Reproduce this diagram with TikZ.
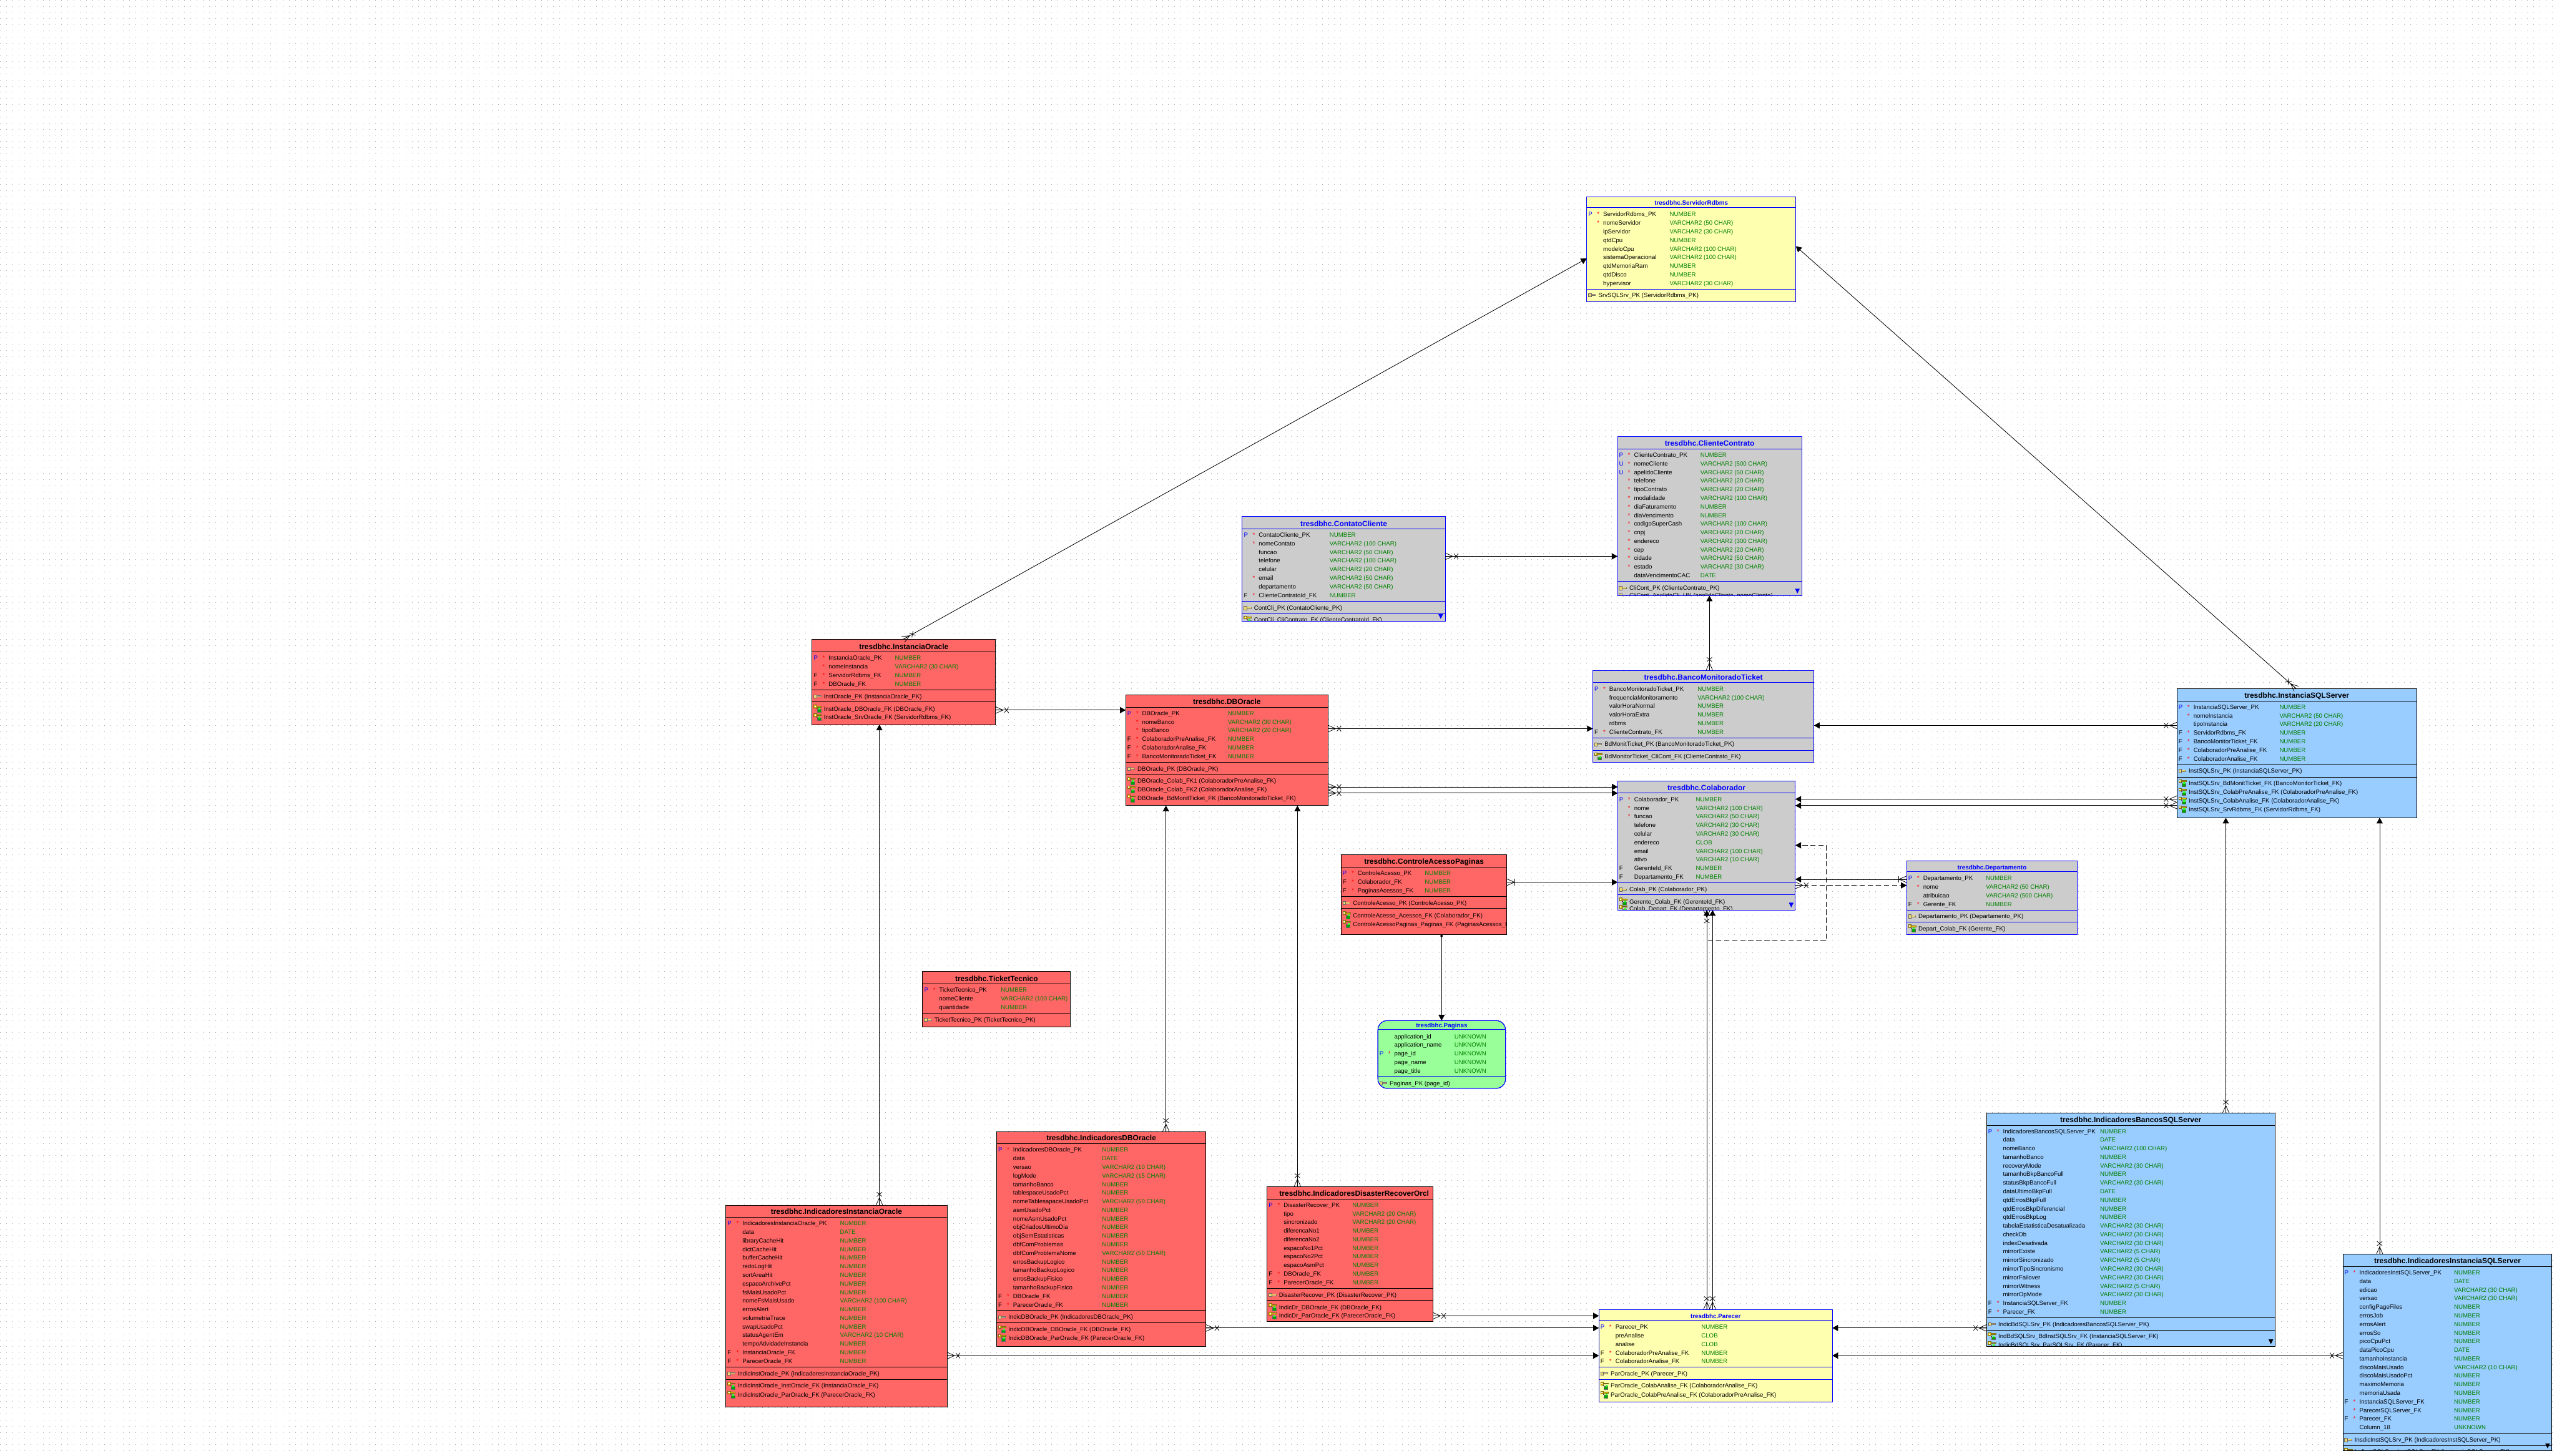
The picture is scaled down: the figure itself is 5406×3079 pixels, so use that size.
\documentclass[tikz,border=0pt]{standalone}
\usepackage{fontspec}
\setmainfont{Liberation Sans}
\usetikzlibrary{arrows.meta,calc}
\definecolor{cR}{HTML}{FF6666}
\definecolor{cY}{HTML}{FFFFB0}
\definecolor{cG}{HTML}{CCCCCC}
\definecolor{cB}{HTML}{99CCFF}
\definecolor{cP}{HTML}{99FF99}
\definecolor{cT}{HTML}{008000}
\definecolor{kGold}{HTML}{E0B800}
\definecolor{kDark}{HTML}{7A6A10}
\AtBeginDocument{\catcode`\_=12 }
\newcounter{autoid}
\newcounter{rowidx}
\tikzset{
  griddots/.style={line width=.45pt,draw=black!32,dash pattern=on .45pt off 6.05pt},
  tbase/.style={inner sep=0pt,outer sep=0pt,line width=.62pt},
  lbl/.style={inner sep=0pt,outer sep=0pt,anchor=base west,font=\fontsize{6.375}{7}\selectfont},
  lblblue/.style={lbl,text=blue},
  lblblack/.style={lbl,text=black},
  lbltype/.style={lbl,text=cT},
  lblstar/.style={inner sep=0pt,outer sep=0pt,anchor=base,text=red,font=\fontsize{6.375}{7}\selectfont},
  ttlbig/.style={inner sep=0pt,outer sep=0pt,anchor=base,font=\fontsize{7.9}{9}\bfseries\selectfont},
  ttlsmall/.style={inner sep=0pt,outer sep=0pt,anchor=base,font=\fontsize{6.5}{8}\bfseries\selectfont},
  relline/.style={line width=.55pt,draw=black,-{Triangle[length=6pt,width=6.5pt]}},
  reldash/.style={relline,dash pattern=on 5.5pt off 3pt},
  footpart/.style={line width=.5pt,draw=black},
  footX/.pic={\draw[footpart] (0,-7)--(16,0)--(0,7) (0,0)--(16,0);
              \draw[footpart] (18.5,-5.5)--(27.5,5.5) (18.5,5.5)--(27.5,-5.5);},
  footB/.pic={\draw[footpart] (0,-7)--(16,0)--(0,7) (0,0)--(16,0);
              \draw[footpart] (17,-7)--(17,7);},
  pkicon/.pic={\fill[black!55] (5,-2)--(16,-2)--(16,2)--(5,2)--cycle;
               \fill[kGold!60!white] (5,-1.2)--(15,-1.2)--(15,.8)--(5,.8)--cycle;
               \filldraw[draw=black!60,fill=kGold!55!white,line width=.35pt] (0,-3.5) rectangle (6,3.5);},
  fkicon/.pic={\filldraw[draw=kDark,fill=kGold,line width=.4pt] (0,-8) rectangle (6,-2);
               \fill[white] (1.8,-6.3) rectangle (4.2,-3.7);
               \filldraw[draw=kDark,fill=kGold,line width=.3pt] (6,-6.2) rectangle (16,-3.8);
               \fill[black!70] (6,-1) rectangle (8,0);
               \filldraw[draw=black!60,fill=green!65!black,line width=.3pt] (7,1) rectangle (15,7);
               \fill[green!80!white] (10,-2) rectangle (14,2);},
}
% open a table: [extra], id, L, T, R, B, fill, line colour
\newcommand\tbOpen[8][]{%
  \def\tL{#3}\def\tT{#4}\def\tR{#5}\def\tB{#6}\def\tCol{#8}%
  \tikzset{tboxopt/.style={#1}}%
  \node[tbase,tboxopt,draw=#8,fill=#7,minimum width={(#5-#3)*0.5pt},minimum height={(#6-#4)*0.5pt}]
     (#2) at ({(#3+#5)/2},{(#4+#6)/2}) {};
  \begin{scope}
  \clip (#3,#4) rectangle (#5,#6);
}
\newcommand\tbClose{%
  \end{scope}
  \draw[line width=.62pt,draw=\tCol,tboxopt] (\tL,\tT) rectangle (\tR,\tB);
}
% [centre x], size style, y, text, divider y
\newcommand\tbTitle[5][]{%
  \stepcounter{autoid}%
  \def\tmpa{#1}%
  \ifx\tmpa\empty\pgfmathsetmacro\tCx{(\tL+\tR)/2}\else\def\tCx{#1}\fi
  \node[#2,text=\tCol] (n\theautoid) at (\tCx,#3+5) {#4};
  \draw[line width=.55pt,draw=\tCol] (\tL,#5) -- (\tR,#5);
}
% type column x, first-row y
\newcommand\tbCols[2]{\def\tX{#1}\def\tFirst{#2}\setcounter{rowidx}{0}}
\newcommand\tbRow[4]{%
  \pgfmathsetmacro\tY{\tFirst+18.19*\therowidx+4.5}%
  \stepcounter{rowidx}%
  \def\tmpa{#1}\def\tmpP{P}\def\tmpU{U}\def\tmpF{F}%
  \ifx\tmpa\tmpP\stepcounter{autoid}\node[lblblue] (n\theautoid) at (\tL+3.5,\tY) {P};\fi
  \ifx\tmpa\tmpU\stepcounter{autoid}\node[lblblue] (n\theautoid) at (\tL+3.5,\tY) {U};\fi
  \ifx\tmpa\tmpF\stepcounter{autoid}\node[lblblack] (n\theautoid) at (\tL+3.5,\tY) {F};\fi
  \def\tmpa{#2}%
  \ifx\tmpa\empty\else\stepcounter{autoid}\node[lblstar] (n\theautoid) at (\tL+24.5,\tY) {*};\fi
  \stepcounter{autoid}\node[lblblack] (n\theautoid) at (\tL+35,\tY) {#3};
  \stepcounter{autoid}\node[lbltype] (n\theautoid) at (\tX,\tY) {#4};
}
\newcommand\tbDiv[1]{\draw[line width=.55pt,draw=\tCol] (\tL,#1) -- (\tR,#1);}
% icon kind (pkicon/fkicon), y, text
\newcommand\tbIdx[3]{%
  \pic at (\tL+3.5,#2) {#1};
  \stepcounter{autoid}\node[lblblack] (n\theautoid) at (\tL+25,#2+4.5) {#3};
}
\newcommand\tbDown[2]{\fill[\tCol] (#1-5,#2-5) -- (#1+5,#2-5) -- (#1,#2+5) -- cycle;}
% relation: from, to, foot at the from end
\newcommand\relLine[4][relline]{%
  \draw[#1] (#2) -- (#3);
  \path let \p1=(#2),\p2=(#3),\n1={atan2(\y2-\y1,\x2-\x1)} in pic[rotate=\n1] at (\p1) {#4};
}
\begin{document}
\begin{tikzpicture}[x=0.5pt,y=-0.5pt]
\useasboundingbox (0,0) rectangle (5406,3079);
\fill[white] (0,0) rectangle (5406,3079);
\foreach \yy in {0,13,...,3079} \draw[griddots] (0,\yy) -- (5406,\yy);

% ---------- ServidorRdbms
\tbOpen{Srv}{3354.5}{416}{3796.7}{638}{cY}{blue}
\tbTitle{ttlsmall}{429}{tresdbhc.ServidorRdbms}{439}
\tbCols{3530}{453.3}
\tbRow{P}{*}{ServidorRdbms_PK}{NUMBER}
\tbRow{}{*}{nomeServidor}{VARCHAR2 (50 CHAR)}
\tbRow{}{}{ipServidor}{VARCHAR2 (30 CHAR)}
\tbRow{}{}{qtdCpu}{NUMBER}
\tbRow{}{}{modeloCpu}{VARCHAR2 (100 CHAR)}
\tbRow{}{}{sistemaOperacional}{VARCHAR2 (100 CHAR)}
\tbRow{}{}{qtdMemoriaRam}{NUMBER}
\tbRow{}{}{qtdDisco}{NUMBER}
\tbRow{}{}{hypervisor}{VARCHAR2 (30 CHAR)}
\tbDiv{611}
\tbIdx{pkicon}{624}{SrvSQLSrv_PK (ServidorRdbms_PK)}
\tbClose

% ---------- ClienteContrato
\tbOpen{CliCont}{3419.7}{923.6}{3809.4}{1259.6}{cG}{blue}
\tbTitle{ttlbig}{938}{tresdbhc.ClienteContrato}{949}
\tbCols{3595}{962.3}
\tbRow{P}{*}{ClienteContrato_PK}{NUMBER}
\tbRow{U}{*}{nomeCliente}{VARCHAR2 (500 CHAR)}
\tbRow{U}{*}{apelidoCliente}{VARCHAR2 (50 CHAR)}
\tbRow{}{*}{telefone}{VARCHAR2 (20 CHAR)}
\tbRow{}{*}{tipoContrato}{VARCHAR2 (20 CHAR)}
\tbRow{}{*}{modalidade}{VARCHAR2 (100 CHAR)}
\tbRow{}{*}{diaFaturamento}{NUMBER}
\tbRow{}{*}{diaVencimento}{NUMBER}
\tbRow{}{*}{codigoSuperCash}{VARCHAR2 (100 CHAR)}
\tbRow{}{*}{cnpj}{VARCHAR2 (20 CHAR)}
\tbRow{}{*}{endereco}{VARCHAR2 (300 CHAR)}
\tbRow{}{*}{cep}{VARCHAR2 (20 CHAR)}
\tbRow{}{*}{cidade}{VARCHAR2 (50 CHAR)}
\tbRow{}{*}{estado}{VARCHAR2 (30 CHAR)}
\tbRow{}{}{dataVencimentoCAC}{DATE}
\tbDiv{1229.4}
\tbIdx{pkicon}{1243.6}{CliCont_PK (ClienteContrato_PK)}
\tbIdx{pkicon}{1259.5}{CliCont_ApelidoCli_UN (apelidoCliente, nomeCliente)}
\tbDown{3800}{1250}
\tbClose

% ---------- ContatoCliente
\tbOpen{ContCli}{2626.3}{1092.3}{3055.7}{1313.3}{cG}{blue}
\tbTitle{ttlbig}{1107.7}{tresdbhc.ContatoCliente}{1118.3}
\tbCols{2811}{1131.3}
\tbRow{P}{*}{ContatoCliente_PK}{NUMBER}
\tbRow{}{*}{nomeContato}{VARCHAR2 (100 CHAR)}
\tbRow{}{}{funcao}{VARCHAR2 (50 CHAR)}
\tbRow{}{}{telefone}{VARCHAR2 (100 CHAR)}
\tbRow{}{}{celular}{VARCHAR2 (20 CHAR)}
\tbRow{}{*}{email}{VARCHAR2 (50 CHAR)}
\tbRow{}{}{departamento}{VARCHAR2 (50 CHAR)}
\tbRow{F}{*}{ClienteContratoId_FK}{NUMBER}
\tbDiv{1271.3}
\tbIdx{pkicon}{1285.7}{ContCli_PK (ContatoCliente_PK)}
\tbDiv{1297.3}
\tbIdx{fkicon}{1310.7}{ContCli_CliContrato_FK (ClienteContratoId_FK)}
\tbDown{3046}{1303.7}
\tbClose

% ---------- BancoMonitoradoTicket
\tbOpen{BdMon}{3367.4}{1417.7}{3835}{1612.6}{cG}{blue}
\tbTitle{ttlbig}{1432.3}{tresdbhc.BancoMonitoradoTicket}{1443.6}
\tbCols{3589}{1456.9}
\tbRow{P}{*}{BancoMonitoradoTicket_PK}{NUMBER}
\tbRow{}{}{frequenciaMonitoramento}{VARCHAR2 (100 CHAR)}
\tbRow{}{}{valorHoraNormal}{NUMBER}
\tbRow{}{}{valorHoraExtra}{NUMBER}
\tbRow{}{}{rdbms}{NUMBER}
\tbRow{F}{*}{ClienteContrato_FK}{NUMBER}
\tbDiv{1560.7}
\tbIdx{pkicon}{1573.9}{BdMonitTicket_PK (BancoMonitoradoTicket_PK)}
\tbDiv{1586.6}
\tbIdx{fkicon}{1599.8}{BdMonitorTicket_CliCont_FK (ClienteContrato_FK)}
\tbClose

% ---------- InstanciaOracle
\tbOpen{InstOra}{1716.9}{1352.3}{2104.8}{1532.3}{cR}{black}
\tbTitle{ttlbig}{1367.7}{tresdbhc.InstanciaOracle}{1378.3}
\tbCols{1892}{1391.7}
\tbRow{P}{*}{InstanciaOracle_PK}{NUMBER}
\tbRow{}{*}{nomeInstancia}{VARCHAR2 (30 CHAR)}
\tbRow{F}{*}{ServidorRdbms_FK}{NUMBER}
\tbRow{F}{*}{DBOracle_FK}{NUMBER}
\tbDiv{1458.3}
\tbIdx{pkicon}{1472.7}{InstOracle_PK (InstanciaOracle_PK)}
\tbDiv{1484.3}
\tbIdx{fkicon}{1499}{InstOracle_DBOracle_FK (DBOracle_FK)}
\tbIdx{fkicon}{1517}{InstOracle_SrvOracle_FK (ServidorRdbms_FK)}
\tbClose

% ---------- DBOracle
\tbOpen{DBOra}{2379.9}{1469.3}{2808}{1703.7}{cR}{black}
\tbTitle{ttlbig}{1484.7}{tresdbhc.DBOracle}{1495.3}
\tbCols{2596}{1508.3}
\tbRow{P}{*}{DBOracle_PK}{NUMBER}
\tbRow{}{*}{nomeBanco}{VARCHAR2 (30 CHAR)}
\tbRow{}{*}{tipoBanco}{VARCHAR2 (20 CHAR)}
\tbRow{F}{*}{ColaboradorPreAnalise_FK}{NUMBER}
\tbRow{F}{*}{ColaboradorAnalise_FK}{NUMBER}
\tbRow{F}{*}{BancoMonitoradoTicket_FK}{NUMBER}
\tbDiv{1612.3}
\tbIdx{pkicon}{1625.7}{DBOracle_PK (DBOracle_PK)}
\tbDiv{1638.3}
\tbIdx{fkicon}{1651.7}{DBOracle_Colab_FK1 (ColaboradorPreAnalise_FK)}
\tbIdx{fkicon}{1669.7}{DBOracle_Colab_FK2 (ColaboradorAnalise_FK)}
\tbIdx{fkicon}{1688.7}{DBOracle_BdMonitTicket_FK (BancoMonitoradoTicket_FK)}
\tbClose

% ---------- Colaborador
\tbOpen{Colab}{3420}{1651.4}{3795.7}{1924.6}{cG}{blue}
\tbTitle{ttlbig}{1666.6}{tresdbhc.Colaborador}{1677.3}
\tbCols{3585.4}{1690.7}
\tbRow{P}{*}{Colaborador_PK}{NUMBER}
\tbRow{}{*}{nome}{VARCHAR2 (100 CHAR)}
\tbRow{}{*}{funcao}{VARCHAR2 (50 CHAR)}
\tbRow{}{}{telefone}{VARCHAR2 (30 CHAR)}
\tbRow{}{}{celular}{VARCHAR2 (30 CHAR)}
\tbRow{}{}{endereco}{CLOB}
\tbRow{}{}{email}{VARCHAR2 (100 CHAR)}
\tbRow{}{}{ativo}{VARCHAR2 (10 CHAR)}
\tbRow{F}{}{GerenteId_FK}{NUMBER}
\tbRow{F}{}{Departamento_FK}{NUMBER}
\tbDiv{1866.6}
\tbIdx{pkicon}{1880.9}{Colab_PK (Colaborador_PK)}
\tbDiv{1892}
\tbIdx{fkicon}{1906.8}{Gerente_Colab_FK (GerenteId_FK)}
\tbIdx{fkicon}{1922.4}{Colab_Depart_FK (Departamento_FK)}
\tbDown{3787}{1914}
\tbClose

% ---------- Departamento
\tbOpen{Depto}{4031}{1820.6}{4392}{1976.4}{cG}{blue}
\tbTitle{ttlsmall}{1834}{tresdbhc.Departamento}{1843.4}
\tbCols{4198.4}{1857.7}
\tbRow{P}{*}{Departamento_PK}{NUMBER}
\tbRow{}{*}{nome}{VARCHAR2 (50 CHAR)}
\tbRow{}{}{atribuicao}{VARCHAR2 (500 CHAR)}
\tbRow{F}{*}{Gerente_FK}{NUMBER}
\tbDiv{1924.6}
\tbIdx{pkicon}{1938}{Departamento_PK (Departamento_PK)}
\tbDiv{1950}
\tbIdx{fkicon}{1963.5}{Depart_Colab_FK (Gerente_FK)}
\tbClose

% ---------- InstanciaSQLServer
\tbOpen{InstSQL}{4602.5}{1456.7}{5109.3}{1729.3}{cB}{black}
\tbTitle{ttlbig}{1471.3}{tresdbhc.InstanciaSQLServer}{1482.3}
\tbCols{4819.3}{1495.3}
\tbRow{P}{*}{InstanciaSQLServer_PK}{NUMBER}
\tbRow{}{*}{nomeInstancia}{VARCHAR2 (50 CHAR)}
\tbRow{}{}{tipoInstancia}{VARCHAR2 (20 CHAR)}
\tbRow{F}{*}{ServidorRdbms_FK}{NUMBER}
\tbRow{F}{*}{BancoMonitorTicket_FK}{NUMBER}
\tbRow{F}{*}{ColaboradorPreAnalise_FK}{NUMBER}
\tbRow{F}{*}{ColaboradorAnalise_FK}{NUMBER}
\tbDiv{1617.3}
\tbIdx{pkicon}{1630.3}{InstSQLSrv_PK (InstanciaSQLServer_PK)}
\tbDiv{1643.3}
\tbIdx{fkicon}{1656.3}{InstSQLSrv_BdMonitTicket_FK (BancoMonitorTicket_FK)}
\tbIdx{fkicon}{1675}{InstSQLSrv_ColabPreAnalise_FK (ColaboradorPreAnalise_FK)}
\tbIdx{fkicon}{1693.3}{InstSQLSrv_ColabAnalise_FK (ColaboradorAnalise_FK)}
\tbIdx{fkicon}{1711.7}{InstSQLSrv_SrvRdbms_FK (ServidorRdbms_FK)}
\tbClose

% ---------- ControleAcessoPaginas
\tbOpen{Ctrl}{2835.4}{1807.2}{3185.9}{1976.4}{cR}{black}
\tbTitle{ttlbig}{1822.9}{tresdbhc.ControleAcessoPaginas}{1834}
\tbCols{3012.2}{1846.5}
\tbRow{P}{*}{ControleAcesso_PK}{NUMBER}
\tbRow{F}{*}{Colaborador_FK}{NUMBER}
\tbRow{F}{*}{PaginasAcessos_FK}{NUMBER}
\tbDiv{1895.2}
\tbIdx{pkicon}{1909.9}{ControleAcesso_PK (ControleAcesso_PK)}
\tbDiv{1921}
\tbIdx{fkicon}{1935.8}{ControleAcesso_Acessos_FK (Colaborador_FK)}
\tbIdx{fkicon}{1954.1}{ControleAcessoPaginas_Paginas_FK (PaginasAcessos_FK)}
\tbClose

% ---------- Paginas
\tbOpen[rounded corners=10pt]{Pag}{2913.1}{2158.3}{3183}{2301.7}{cP}{blue}
\tbTitle{ttlsmall}{2167.7}{tresdbhc.Paginas}{2177.3}
\tbCols{3075}{2191.7}
\tbRow{}{}{application_id}{UNKNOWN}
\tbRow{}{}{application_name}{UNKNOWN}
\tbRow{P}{*}{page_id}{UNKNOWN}
\tbRow{}{}{page_name}{UNKNOWN}
\tbRow{}{}{page_title}{UNKNOWN}
\tbDiv{2276}
\tbIdx{pkicon}{2290.7}{Paginas_PK (page_id)}
\tbClose

% ---------- TicketTecnico
\tbOpen{Tick}{1950.6}{2054.3}{2263.2}{2171.7}{cR}{black}
\tbTitle{ttlbig}{2070}{tresdbhc.TicketTecnico}{2080.7}
\tbCols{2116}{2093.3}
\tbRow{P}{*}{TicketTecnico_PK}{NUMBER}
\tbRow{}{}{nomeCliente}{VARCHAR2 (100 CHAR)}
\tbRow{}{}{quantidade}{NUMBER}
\tbDiv{2142.3}
\tbIdx{pkicon}{2156.7}{TicketTecnico_PK (TicketTecnico_PK)}
\tbClose

% ---------- IndicadoresInstanciaOracle
\tbOpen{IndInstOra}{1534.7}{2548.7}{2002.3}{2975}{cR}{black}
\tbTitle{ttlbig}{2563.3}{tresdbhc.IndicadoresInstanciaOracle}{2574.3}
\tbCols{1776}{2587.3}
\tbRow{P}{*}{IndicadoresInstanciaOracle_PK}{NUMBER}
\tbRow{}{}{data}{DATE}
\tbRow{}{}{libraryCacheHit}{NUMBER}
\tbRow{}{}{dictCacheHit}{NUMBER}
\tbRow{}{}{bufferCacheHit}{NUMBER}
\tbRow{}{}{redoLogHit}{NUMBER}
\tbRow{}{}{sortAreaHit}{NUMBER}
\tbRow{}{}{espacoArchivePct}{NUMBER}
\tbRow{}{}{fsMaisUsadoPct}{NUMBER}
\tbRow{}{}{nomeFsMaisUsado}{VARCHAR2 (100 CHAR)}
\tbRow{}{}{errosAlert}{NUMBER}
\tbRow{}{}{volumetriaTrace}{NUMBER}
\tbRow{}{}{swapUsadoPct}{NUMBER}
\tbRow{}{}{statusAgentEm}{VARCHAR2 (10 CHAR)}
\tbRow{}{}{tempoAtividadeInstancia}{NUMBER}
\tbRow{F}{*}{InstanciaOracle_FK}{NUMBER}
\tbRow{F}{*}{ParecerOracle_FK}{NUMBER}
\tbDiv{2891.3}
\tbIdx{pkicon}{2904.7}{IndicInstOracle_PK (IndicadoresInstanciaOracle_PK)}
\tbDiv{2917.3}
\tbIdx{fkicon}{2930.7}{IndicInstOracle_InstOracle_FK (InstanciaOracle_FK)}
\tbIdx{fkicon}{2950}{IndicInstOracle_ParOracle_FK (ParecerOracle_FK)}
\tbClose

% ---------- IndicadoresDBOracle
\tbOpen{IndDBOra}{2106.9}{2392.9}{2549.8}{2847.1}{cR}{black}
\tbTitle{ttlbig}{2407.5}{tresdbhc.IndicadoresDBOracle}{2418.2}
\tbCols{2330}{2431.8}
\tbRow{P}{*}{IndicadoresDBOracle_PK}{NUMBER}
\tbRow{}{}{data}{DATE}
\tbRow{}{}{versao}{VARCHAR2 (10 CHAR)}
\tbRow{}{}{logMode}{VARCHAR2 (15 CHAR)}
\tbRow{}{}{tamanhoBanco}{NUMBER}
\tbRow{}{}{tablespaceUsadoPct}{NUMBER}
\tbRow{}{}{nomeTablesapaceUsadoPct}{VARCHAR2 (50 CHAR)}
\tbRow{}{}{asmUsadoPct}{NUMBER}
\tbRow{}{}{nomeAsmUsadoPct}{NUMBER}
\tbRow{}{}{objCriadosUltimoDia}{NUMBER}
\tbRow{}{}{objSemEstatisticas}{NUMBER}
\tbRow{}{}{dbfComProblemas}{NUMBER}
\tbRow{}{}{dbfComProblemaNome}{VARCHAR2 (50 CHAR)}
\tbRow{}{}{errosBackupLogico}{NUMBER}
\tbRow{}{}{tamanhoBackupLogico}{NUMBER}
\tbRow{}{}{errosBackupFisico}{NUMBER}
\tbRow{}{}{tamanhoBackupFisico}{NUMBER}
\tbRow{F}{*}{DBOracle_FK}{NUMBER}
\tbRow{F}{*}{ParecerOracle_FK}{NUMBER}
\tbDiv{2771.4}
\tbIdx{pkicon}{2785.4}{IndicDBOracle_PK (IndicadoresDBOracle_PK)}
\tbDiv{2797.1}
\tbIdx{fkicon}{2811.4}{IndicDBOracle_DBOracle_FK (DBOracle_FK)}
\tbIdx{fkicon}{2829.6}{IndicDBOracle_ParOracle_FK (ParecerOracle_FK)}
\tbClose

% ---------- IndicadoresDisasterRecoverOrcl
\tbOpen{IndDR}{2679}{2509.3}{3029.3}{2795.3}{cR}{black}
\tbTitle[2863]{ttlbig}{2524.3}{tresdbhc.IndicadoresDisasterRecoverOrcl}{2535.3}
\tbCols{2859.3}{2548.3}
\tbRow{P}{*}{DisasterRecover_PK}{NUMBER}
\tbRow{}{}{tipo}{VARCHAR2 (20 CHAR)}
\tbRow{}{}{sincronizado}{VARCHAR2 (20 CHAR)}
\tbRow{}{}{diferencaNo1}{NUMBER}
\tbRow{}{}{diferencaNo2}{NUMBER}
\tbRow{}{}{espacoNo1Pct}{NUMBER}
\tbRow{}{}{espacoNo2Pct}{NUMBER}
\tbRow{}{}{espacoAsmPct}{NUMBER}
\tbRow{F}{*}{DBOracle_FK}{NUMBER}
\tbRow{F}{*}{ParecerOracle_FK}{NUMBER}
\tbDiv{2724.3}
\tbIdx{pkicon}{2738.7}{DisasterRecover_PK (DisasterRecover_PK)}
\tbDiv{2750.3}
\tbIdx{fkicon}{2764.7}{IndicDr_DBOracle_FK (DBOracle_FK)}
\tbIdx{fkicon}{2782.7}{IndicDr_ParOracle_FK (ParecerOracle_FK)}
\tbClose

% ---------- Parecer
\tbOpen{Par}{3380.4}{2769.3}{3873.9}{2964.3}{cY}{blue}
\tbTitle{ttlsmall}{2782.7}{tresdbhc.Parecer}{2792.3}
\tbCols{3597}{2806.3}
\tbRow{P}{*}{Parecer_PK}{NUMBER}
\tbRow{}{}{preAnalise}{CLOB}
\tbRow{}{}{analise}{CLOB}
\tbRow{F}{*}{ColaboradorPreAnalise_FK}{NUMBER}
\tbRow{F}{*}{ColaboradorAnalise_FK}{NUMBER}
\tbDiv{2891.3}
\tbIdx{pkicon}{2904.7}{ParOracle_PK (Parecer_PK)}
\tbDiv{2917.3}
\tbIdx{fkicon}{2930.7}{ParOracle_ColabAnalise_FK (ColaboradorAnalise_FK)}
\tbIdx{fkicon}{2949.7}{ParOracle_ColabPreAnalise_FK (ColaboradorPreAnalise_FK)}
\tbClose

% ---------- IndicadoresBancosSQLServer
\tbOpen{IndBd}{4199.8}{2353.8}{4810}{2847.2}{cB}{black}
\tbTitle{ttlbig}{2368.2}{tresdbhc.IndicadoresBancosSQLServer}{2379.6}
\tbCols{4440}{2392.3}
\tbRow{P}{*}{IndicadoresBancosSQLServer_PK}{NUMBER}
\tbRow{}{}{data}{DATE}
\tbRow{}{}{nomeBanco}{VARCHAR2 (100 CHAR)}
\tbRow{}{}{tamanhoBanco}{NUMBER}
\tbRow{}{}{recoveryMode}{VARCHAR2 (30 CHAR)}
\tbRow{}{}{tamanhoBkpBancoFull}{NUMBER}
\tbRow{}{}{statusBkpBancoFull}{VARCHAR2 (30 CHAR)}
\tbRow{}{}{dataUltimoBkpFull}{DATE}
\tbRow{}{}{qtdErrosBkpFull}{NUMBER}
\tbRow{}{}{qtdErrosBkpDiferencial}{NUMBER}
\tbRow{}{}{qtdErrosBkpLog}{NUMBER}
\tbRow{}{}{tabelaEstatisticaDesatualizada}{VARCHAR2 (30 CHAR)}
\tbRow{}{}{checkDb}{VARCHAR2 (30 CHAR)}
\tbRow{}{}{indexDesativada}{VARCHAR2 (30 CHAR)}
\tbRow{}{}{mirrorExiste}{VARCHAR2 (5 CHAR)}
\tbRow{}{}{mirrorSincronizado}{VARCHAR2 (5 CHAR)}
\tbRow{}{}{mirrorTipoSincronismo}{VARCHAR2 (30 CHAR)}
\tbRow{}{}{mirrorFailover}{VARCHAR2 (30 CHAR)}
\tbRow{}{}{mirrorWitness}{VARCHAR2 (5 CHAR)}
\tbRow{}{}{mirrorOpMode}{VARCHAR2 (30 CHAR)}
\tbRow{F}{*}{InstanciaSQLServer_FK}{NUMBER}
\tbRow{F}{*}{Parecer_FK}{NUMBER}
\tbDiv{2787.3}
\tbIdx{pkicon}{2800.4}{IndicBdSQLSrv_PK (IndicadoresBancosSQLServer_PK)}
\tbDiv{2813.1}
\tbIdx{fkicon}{2826.2}{IndBdSQLSrv_BdInstSQLSrv_FK (InstanciaSQLServer_FK)}
\tbIdx{fkicon}{2844.8}{IndicBdSQLSrv_ParSQLSrv_FK (Parecer_FK)}
\tbDown{4801}{2837.6}
\tbClose

% ---------- IndicadoresInstanciaSQLServer
\tbOpen{IndInstSQL}{4953.3}{2652.7}{5395.3}{3068.3}{cB}{black}
\tbTitle{ttlbig}{2667.3}{tresdbhc.IndicadoresInstanciaSQLServer}{2678.3}
\tbCols{5188.3}{2691.3}
\tbRow{P}{*}{IndicadoresInstSQLServer_PK}{NUMBER}
\tbRow{}{}{data}{DATE}
\tbRow{}{}{edicao}{VARCHAR2 (30 CHAR)}
\tbRow{}{}{versao}{VARCHAR2 (30 CHAR)}
\tbRow{}{}{configPageFiles}{NUMBER}
\tbRow{}{}{errosJob}{NUMBER}
\tbRow{}{}{errosAlert}{NUMBER}
\tbRow{}{}{errosSo}{NUMBER}
\tbRow{}{}{picoCpuPct}{NUMBER}
\tbRow{}{}{dataPicoCpu}{DATE}
\tbRow{}{}{tamanhoInstancia}{NUMBER}
\tbRow{}{}{discoMaisUsado}{VARCHAR2 (10 CHAR)}
\tbRow{}{}{discoMaisUsadoPct}{NUMBER}
\tbRow{}{}{maximoMemoria}{NUMBER}
\tbRow{}{}{memoriaUsada}{NUMBER}
\tbRow{F}{*}{InstanciaSQLServer_FK}{NUMBER}
\tbRow{}{*}{ParecerSQLServer_FK}{NUMBER}
\tbRow{F}{*}{Parecer_FK}{NUMBER}
\tbRow{}{}{Column_18}{UNKNOWN}
\tbDiv{3031.3}
\tbIdx{pkicon}{3045.3}{InsdicInstSQLSrv_PK (IndicadoresInstSQLServer_PK)}
\tbDiv{3057.3}
\tbIdx{fkicon}{3070.5}{IndInstSQLSrv_InstSQLSrv_FK (InstanciaSQLServer_FK)}
\tbDown{5386}{3058}
\tbClose

% ---------- relations
\relLine{1909,0 |- InstOra.north}{Srv.west |- 0,546.7}{footX}
\relLine{4855,0 |- InstSQL.north}{Srv.east |- 0,520.7}{footX}
\relLine{ContCli.east |- 0,1176.5}{CliCont.west |- 0,1176.5}{footX}
\relLine{3614,0 |- BdMon.north}{3614,0 |- CliCont.south}{footX}
\relLine{DBOra.east |- 0,1540.9}{BdMon.west |- 0,1540.9}{footX}
\relLine{InstOra.east |- 0,1501.7}{DBOra.west |- 0,1501.7}{footX}
\relLine{DBOra.east |- 0,1664.2}{Colab.west |- 0,1664.2}{footX}
\relLine{DBOra.east |- 0,1677.3}{Colab.west |- 0,1677.3}{footX}
\relLine{Ctrl.east |- 0,1865.7}{Colab.west |- 0,1865.7}{footB}
\relLine{Depto.west |- 0,1859.5}{Colab.east |- 0,1859.5}{footB}
\relLine[reldash]{Colab.east |- 0,1872.4}{Depto.west |- 0,1872.4}{footX}
\relLine{InstSQL.west |- 0,1690}{Colab.east |- 0,1690}{footX}
\relLine{InstSQL.west |- 0,1703.6}{Colab.east |- 0,1703.6}{footX}
\relLine{InstSQL.west |- 0,1534.2}{BdMon.east |- 0,1534.2}{footX}
\relLine{1859.2,0 |- IndInstOra.north}{1859.2,0 |- InstOra.south}{footX}
\relLine{2465,0 |- IndDBOra.north}{2465,0 |- DBOra.south}{footX}
\relLine{2743,0 |- IndDR.north}{2743,0 |- DBOra.south}{footX}
\relLine{IndDBOra.east |- 0,2808.4}{Par.west |- 0,2808.4}{footX}
\relLine{IndDR.east |- 0,2782.7}{Par.west |- 0,2782.7}{footX}
\relLine{IndInstOra.east |- 0,2866.8}{Par.west |- 0,2866.8}{footX}
\relLine{IndBd.west |- 0,2808.4}{Par.east |- 0,2808.4}{footX}
\relLine{IndInstSQL.west |- 0,2866.8}{Par.east |- 0,2866.8}{footX}
\relLine{4705.8,0 |- IndBd.north}{4705.8,0 |- InstSQL.south}{footX}
\relLine{5031,0 |- IndInstSQL.north}{5031,0 |- InstSQL.south}{footX}
\relLine{3608.5,0 |- Par.north}{3608.5,0 |- Colab.south}{footX}
\relLine{3620.6,0 |- Par.north}{3620.6,0 |- Colab.south}{footX}
% self relation of Colaborador (dashed)
\draw[reldash] (3608.5,0 |- Colab.south) -- (3608.5,1990) -- (3861.6,1990) -- (3861.6,1787.6) -- (Colab.east |- 0,1787.6);
\path let \p1=(3608.5,0 |- Colab.south) in pic[rotate=-90] at (\p1) {footX};
% Controle -> Paginas
\draw[line width=.55pt,draw=black,{Circle[length=3pt]}-{Triangle[length=6pt,width=6.5pt]}] (3047.8,0 |- Ctrl.south) -- (3047.8,0 |- Pag.north);
\end{tikzpicture}
\end{document}
